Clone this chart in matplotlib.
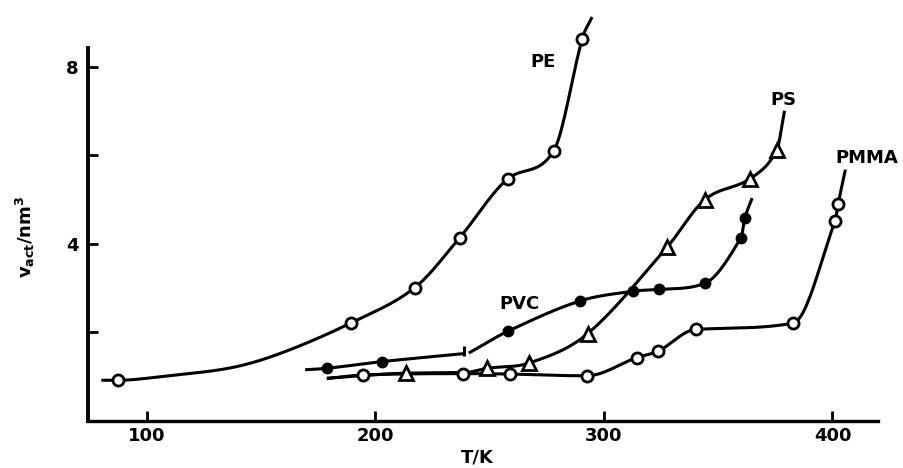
import numpy as np
import matplotlib
matplotlib.use("Agg")
import matplotlib.pyplot as plt

# data (T in K, v_act in nm^3)
pe_T = [87.3, 189.5, 217.2, 236.9, 258.0, 278.0, 290.5]
pe_v = [0.92, 2.22, 3.01, 4.14, 5.47, 6.10, 8.63]
pe_line_T = [80.7, 87.3, 109.0, 137.6, 159.6, 189.5, 217.2, 236.9, 258.0, 278.0, 290.5, 294.5]
pe_line_v = [0.92, 0.92, 1.02, 1.21, 1.55, 2.22, 3.01, 4.14, 5.47, 6.10, 8.63, 9.09]

pvc_T = [178.9, 202.7, 258.1, 289.5, 312.8, 324.1, 344.2, 360.0, 361.7]
pvc_v = [1.19, 1.34, 2.03, 2.71, 2.93, 2.97, 3.11, 4.14, 4.59]
pvc_line1_T = [169.9, 178.9, 202.7, 238.4]
pvc_line1_v = [1.16, 1.19, 1.34, 1.52]
pvc_line2_T = [241.4, 258.1, 289.5, 312.8, 324.1, 344.2, 360.0, 361.7, 364.6]
pvc_line2_v = [1.55, 2.03, 2.71, 2.93, 2.97, 3.11, 4.14, 4.59, 5.00]
pvc_break_T = [238.6]
pvc_break_v = [1.58]

ps_T = [213.3, 248.7, 267.3, 292.8, 327.7, 344.2, 363.9, 375.6]
ps_v = [1.08, 1.19, 1.31, 1.97, 3.93, 5.00, 5.47, 6.11]
ps_line_T = [179.4, 213.3, 240.0, 248.7, 267.3, 292.8, 327.7, 344.2, 363.9, 375.6, 378.9]
ps_line_v = [0.97, 1.08, 1.10, 1.19, 1.31, 1.97, 3.93, 5.00, 5.47, 6.11, 6.97]

pmma_T = [194.7, 238.2, 258.9, 292.4, 314.3, 323.8, 340.3, 382.8, 401.1, 402.5]
pmma_v = [1.04, 1.07, 1.06, 1.02, 1.43, 1.58, 2.07, 2.21, 4.51, 4.91]
pmma_line_T = [179.4, 194.7, 238.2, 258.9, 292.4, 314.3, 323.8, 340.3, 382.8, 401.1, 402.5, 405.5]
pmma_line_v = [0.96, 1.04, 1.07, 1.06, 1.02, 1.43, 1.58, 2.07, 2.21, 4.51, 4.91, 5.64]

labels = ["PE", "PVC", "PS", "PMMA"]
label_T = [273.4, 263.2, 378.5, 415.0]
label_v = [8.11, 2.64, 7.25, 5.94]


def smooth(x, y, n=300):
    # cubic hermite through the read points (centred slopes, Fritsch-Carlson limit)
    x = np.asarray(x, float)
    y = np.asarray(y, float)
    h = np.diff(x)
    d = np.diff(y) / h
    m = np.zeros(len(x))
    m[0] = d[0]
    m[-1] = d[-1]
    m[1:-1] = (y[2:] - y[:-2]) / (x[2:] - x[:-2])
    for k in range(len(d)):
        if d[k] == 0:
            m[k] = m[k + 1] = 0
            continue
        a = m[k] / d[k]
        b = m[k + 1] / d[k]
        if a < 0:
            m[k] = 0
            a = 0
        if b < 0:
            m[k + 1] = 0
            b = 0
        s = a * a + b * b
        if s > 9:
            tau = 3 / np.sqrt(s)
            m[k] = tau * a * d[k]
            m[k + 1] = tau * b * d[k]
    xs = np.linspace(x[0], x[-1], n)
    i = np.clip(np.searchsorted(x, xs) - 1, 0, len(x) - 2)
    t = (xs - x[i]) / h[i]
    h00 = 2 * t**3 - 3 * t**2 + 1
    h10 = t**3 - 2 * t**2 + t
    h01 = -2 * t**3 + 3 * t**2
    h11 = t**3 - t**2
    ys = h00 * y[i] + h10 * h[i] * m[i] + h01 * y[i + 1] + h11 * h[i] * m[i + 1]
    return xs, ys


plt.rcParams['font.family'] = ['DejaVu Sans']
plt.rcParams['mathtext.fontset'] = 'dejavusans'

fig = plt.figure(figsize=(9.04, 4.68), dpi=100)
ax = fig.add_axes([0.0973, 0.1004, 0.8739, 0.797])

lw = 2.2
for lt, lv in [(pe_line_T, pe_line_v), (pvc_line1_T, pvc_line1_v), (pvc_line2_T, pvc_line2_v),
               (ps_line_T, ps_line_v), (pmma_line_T, pmma_line_v)]:
    xs, ys = smooth(lt, lv)
    ax.plot(xs, ys, "-", color="k", lw=lw, clip_on=False, zorder=2)

ax.plot(pe_T, pe_v, "o", ms=8, mfc="white", mec="k", mew=2, clip_on=False, zorder=3)
ax.plot(pmma_T, pmma_v, "o", ms=8, mfc="white", mec="k", mew=2, clip_on=False, zorder=3)
ax.plot(ps_T, ps_v, "^", ms=9.5, mfc="white", mec="k", mew=2, clip_on=False, zorder=3)
ax.plot(pvc_T, pvc_v, "o", ms=7.5, mfc="k", mec="k", mew=1, clip_on=False, zorder=3)
ax.plot(pvc_break_T, pvc_break_v, "|", ms=7, mec="k", mew=2.2, clip_on=False, zorder=3)

for s, tx, ty in zip(labels, label_T, label_v):
    ax.text(tx, ty, s, ha="center", va="center", fontsize=13, fontweight="bold")

ax.set_xlim(74.2, 419.9)
ax.set_ylim(0, 8.42)
ax.set_xticks([100, 200, 300, 400])
ax.set_yticks([2, 4, 6, 8])
ax.set_yticklabels(["", "4", "", "8"])
ax.tick_params(axis="x", direction="in", length=7, width=2, pad=4, labelsize=13)
ax.tick_params(axis="y", direction="in", length=7, width=2, pad=7, labelsize=13)
for lab in ax.get_xticklabels() + ax.get_yticklabels():
    lab.set_fontweight("bold")

ax.spines["top"].set_visible(False)
ax.spines["right"].set_visible(False)
ax.spines["left"].set_linewidth(2.8)
ax.spines["bottom"].set_linewidth(2.4)

fig.text(477 / 904, 1 - 458 / 468, "T/K", ha="center", va="center", fontsize=13, fontweight="bold")
fig.text(25 / 904, 1 - 237 / 468, r"$\mathbf{v_{act}/nm^3}$", ha="center", va="center",
         rotation=90, fontsize=13)

fig.savefig("out.png", dpi=100)
